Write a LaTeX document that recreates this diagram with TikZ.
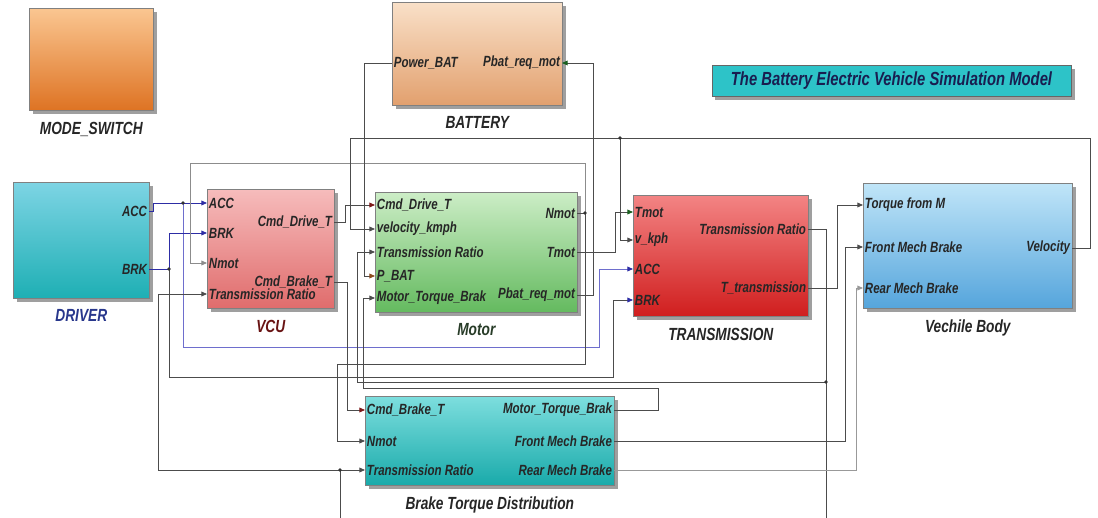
\documentclass[tikz,border=0pt]{standalone}
\usepackage{fontspec}
\setmainfont{Liberation Sans}[FakeStretch=0.78]
\usetikzlibrary{arrows.meta,shadows,positioning}

\definecolor{wireblue}{RGB}{45,45,165}
\definecolor{wirelblue}{RGB}{110,110,205}
\definecolor{tipred}{RGB}{125,25,25}
\definecolor{tipgreen}{RGB}{25,95,30}
\definecolor{tipbrown}{RGB}{140,75,30}
\definecolor{titlecyan}{RGB}{45,195,200}
\definecolor{titletext}{RGB}{25,30,80}

\begin{document}
\begin{tikzpicture}[x=0.025cm, y=-0.025cm,
    blk/.style={draw=black!50, anchor=north west, inner sep=0pt,
        drop shadow={shadow xshift=2.5pt, shadow yshift=-2.5pt, fill=black!75}},
    pin/.style={inner sep=1.2pt, text=black!85, font=\fontsize{10.5}{12}\selectfont\bfseries\itshape},
    blabel/.style={text=black!85, font=\fontsize{12.5}{14}\selectfont\bfseries\itshape},
    wire/.style={draw=black!70, line width=0.6pt, -{Triangle[length=4pt,width=3.4pt]}},
    lwire/.style={wire, draw=black!40},
    bwire/.style={wire, draw=wireblue, -{Triangle[length=4pt,width=3.4pt,color=wireblue]}},
    redtip/.style={-{Triangle[length=4pt,width=3.4pt,color=tipred]}},
    greentip/.style={-{Triangle[length=4pt,width=3.4pt,color=tipgreen]}},
    browntip/.style={-{Triangle[length=4pt,width=3.4pt,color=tipbrown]}},
    dot/.style={fill=black!80}]

    \fill[white] (0,0) rectangle (1098,518);
    \useasboundingbox (0,0) rectangle (1098,518);

    % blocks
    \node[blk, top color={rgb,255:red,250;green,198;blue,145}, bottom color={rgb,255:red,222;green,115;blue,35},
        minimum width=3.1cm, minimum height=2.55cm] (mode) at (29,8) {};
    \node[blk, top color={rgb,255:red,249;green,224;blue,200}, bottom color={rgb,255:red,226;green,160;blue,110},
        minimum width=4.25cm, minimum height=2.575cm] (bat) at (392,2) {};
    \node[blk, top color={rgb,255:red,125;green,212;blue,228}, bottom color={rgb,255:red,30;green,175;blue,180},
        minimum width=3.4cm, minimum height=2.9cm] (drv) at (13,182) {};
    \node[blk, top color={rgb,255:red,246;green,188;blue,188}, bottom color={rgb,255:red,224;green,108;blue,108},
        minimum width=3.175cm, minimum height=2.975cm] (vcu) at (207,189) {};
    \node[blk, top color={rgb,255:red,204;green,237;blue,198}, bottom color={rgb,255:red,100;green,186;blue,95},
        minimum width=5.05cm, minimum height=3.0cm] (mot) at (375,192) {};
    \node[blk, top color={rgb,255:red,243;green,132;blue,132}, bottom color={rgb,255:red,208;green,30;blue,30},
        minimum width=4.375cm, minimum height=3.025cm] (tr) at (633,195) {};
    \node[blk, top color={rgb,255:red,192;green,229;blue,248}, bottom color={rgb,255:red,85;green,165;blue,220},
        minimum width=5.225cm, minimum height=3.125cm] (vb) at (863,183) {};
    \node[blk, top color={rgb,255:red,125;green,222;blue,222}, bottom color={rgb,255:red,25;green,170;blue,170},
        minimum width=6.225cm, minimum height=2.225cm] (btd) at (365,396) {};

    \node[blabel, below=4.5pt of mode] (mode-lbl) {MODE\_SWITCH};
    \node[blabel, below=4.5pt of bat] (bat-lbl) {BATTERY};
    \node[blabel, below=4.5pt of drv, text={rgb,255:red,40;green,55;blue,140}] (drv-lbl) {DRIVER};
    \node[blabel, below=4.5pt of vcu, text={rgb,255:red,105;green,20;blue,20}] (vcu-lbl) {VCU};
    \node[blabel, below=4.5pt of mot, text={rgb,255:red,40;green,60;blue,40}] (mot-lbl) {Motor};
    \node[blabel, below=4.5pt of tr] (tr-lbl) {TRANSMISSION};
    \node[blabel, below=4.5pt of vb] (vb-lbl) {Vechile Body};
    \node[blabel, below=4.5pt of btd] (btd-lbl) {Brake Torque Distribution};

    \node[draw=black!60, fill=titlecyan, text=titletext, minimum width=8.975cm, minimum height=0.775cm,
        drop shadow={shadow xshift=2.5pt, shadow yshift=-2.5pt, fill=black!75},
        font=\fontsize{13.5}{15}\selectfont\bfseries\itshape] (title) at (891.5,80.5)
        {The Battery Electric Vehicle Simulation Model};

    % ports
    \node[pin, anchor=east] (drv-acc) at (149,211) {ACC};
    \node[pin, anchor=east] (drv-brk) at (149,269) {BRK};

    \node[pin, anchor=west] (vcu-acc) at (207,203) {ACC};
    \node[pin, anchor=west] (vcu-brk) at (207,233) {BRK};
    \node[pin, anchor=west] (vcu-nmot) at (207,263) {Nmot};
    \node[pin, anchor=west] (vcu-ratio) at (207,294) {Transmission Ratio};
    \node[pin, anchor=east] (vcu-cdt) at (334,222) {Cmd\_Drive\_T};
    \node[pin, anchor=east] (vcu-cbt) at (334,282) {Cmd\_Brake\_T};

    \node[pin, anchor=west] (bat-pw) at (392,63) {Power\_BAT};
    \node[pin, anchor=east] (bat-preq) at (562,63) {Pbat\_req\_mot};

    \node[pin, anchor=west] (mot-cdt) at (375,205) {Cmd\_Drive\_T};
    \node[pin, anchor=west] (mot-vel) at (375,229) {velocity\_kmph};
    \node[pin, anchor=west] (mot-ratio) at (375,252) {Transmission Ratio};
    \node[pin, anchor=west] (mot-pbat) at (375,276) {P\_BAT};
    \node[pin, anchor=west] (mot-mtb) at (375,298) {Motor\_Torque\_Brak};
    \node[pin, anchor=east] (mot-nmot) at (577,213) {Nmot};
    \node[pin, anchor=east] (mot-tmot) at (577,252) {Tmot};
    \node[pin, anchor=east] (mot-preq) at (577,295) {Pbat\_req\_mot};

    \node[pin, anchor=west] (tr-tmot) at (633,212) {Tmot};
    \node[pin, anchor=west] (tr-vkph) at (633,240) {v\_kph};
    \node[pin, anchor=west] (tr-acc) at (633,269) {ACC};
    \node[pin, anchor=west] (tr-brk) at (633,300) {BRK};
    \node[pin, anchor=east] (tr-ratio) at (808,229) {Transmission Ratio};
    \node[pin, anchor=east] (tr-tt) at (808,288) {T\_transmission};

    \node[pin, anchor=west] (vb-torque) at (863,205) {Torque from M};
    \node[pin, anchor=west] (vb-front) at (863,247) {Front Mech Brake};
    \node[pin, anchor=west] (vb-rear) at (863,288) {Rear Mech Brake};
    \node[pin, anchor=east] (vb-vel) at (1072,248) {Velocity};

    \node[pin, anchor=west] (btd-cbt) at (365,410) {Cmd\_Brake\_T};
    \node[pin, anchor=west] (btd-nmot) at (365,441) {Nmot};
    \node[pin, anchor=west] (btd-ratio) at (365,470) {Transmission Ratio};
    \node[pin, anchor=east] (btd-mtb) at (614,410) {Motor\_Torque\_Brak};
    \node[pin, anchor=east] (btd-front) at (614,441) {Front Mech Brake};
    \node[pin, anchor=east] (btd-rear) at (614,470) {Rear Mech Brake};

    % branch points and cut ends
    \coordinate (j-acc) at (183,203);
    \coordinate (j-brk) at (169,269);
    \coordinate (j-nmot) at (585,213);
    \coordinate (j-vel) at (620,138);
    \coordinate (j-ratio) at (826,382);
    \coordinate (j-ratio2) at (340,470);
    \coordinate (cut-r) at (826,518);
    \coordinate (cut-l) at (340,518);

    % driver pedals
    \draw[bwire] (drv-acc.east) -- (153,211) |- (vcu-acc.west);
    \draw[bwire, draw=wirelblue] (j-acc) |- (599,347) |- (tr-acc.west);
    \draw[bwire] (drv-brk.east) -- (j-brk) |- (vcu-brk.west);
    \draw[bwire, draw=black!70] (j-brk) |- (613,377) |- (tr-brk.west);

    % motor speed
    \draw[wire, -] (mot-nmot.east) -- (j-nmot);
    \draw[wire, draw=black!45] (j-nmot) |- (190,163) |- (vcu-nmot.west);
    \draw[wire] (j-nmot) |- (337,364) |- (btd-nmot.west);

    % torque commands
    \draw[wire, redtip] (vcu-cdt.east) -- (345,222) |- (mot-cdt.west);
    \draw[wire, redtip] (vcu-cbt.east) -- (347,282) |- (btd-cbt.west);

    % vehicle speed feedback
    \draw[wire] (vb-vel.east) -- (1090,248) |- (350,138) |- (mot-vel.west);
    \draw[wire] (j-vel) |- (tr-vkph.west);

    % battery power
    \draw[wire, browntip] (bat-pw.west) -- (364,63) |- (mot-pbat.west);
    \draw[wire, greentip] (mot-preq.east) -- (593,295) |- (bat-preq.east);

    % motor torque
    \draw[wire, greentip] (mot-tmot.east) -- (615,252) |- (tr-tmot.west);

    % gear ratio
    \draw[wire, -] (tr-ratio.east) -- (826,229) -- (cut-r);
    \draw[wire] (j-ratio) -- (357,382) |- (mot-ratio.west);
    \draw[wire] (cut-l) -- (j-ratio2) -- (btd-ratio.west);
    \draw[wire] (j-ratio2) -- (158,470) |- (vcu-ratio.west);

    % to the vehicle body
    \draw[wire] (tr-tt.east) -- (837,288) |- (vb-torque.west);
    \draw[wire] (btd-front.east) -- (845,441) |- (vb-front.west);
    \draw[lwire] (btd-rear.east) -- (856,470) |- (vb-rear.west);
    \draw[wire] (btd-mtb.east) -- (658,410) |- (363,388) |- (mot-mtb.west);

    \foreach \j in {j-acc, j-brk, j-nmot, j-vel, j-ratio, j-ratio2}
        \fill[dot] (\j) circle (1.4pt);
\end{tikzpicture}
\end{document}
